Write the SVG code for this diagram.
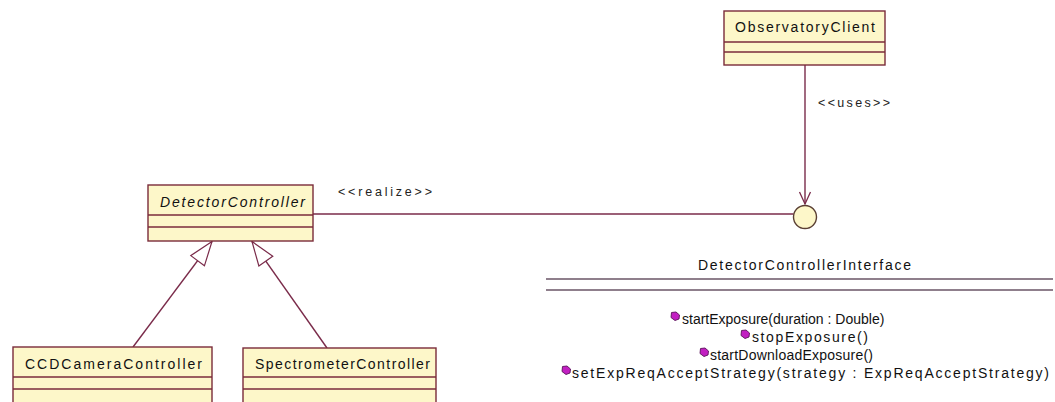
<svg xmlns="http://www.w3.org/2000/svg" width="1055" height="402" viewBox="0 0 1055 402">
  <style>
    .box { fill: #fdf7c9; stroke: #7a2b3a; stroke-width: 1.4; }
    .sep { stroke: #7a2b3a; stroke-width: 1.4; }
    .name { font-family: "Liberation Sans", Arial, sans-serif; font-size: 14px; fill: #111; text-anchor: start; }
    .stereo { font-family: "Liberation Sans", Arial, sans-serif; font-size: 12.5px; fill: #222; }
    .op { font-family: "Liberation Sans", Arial, sans-serif; font-size: 14px; fill: #111; }
    .conn { stroke: #7a2b4a; stroke-width: 1.4; fill: none; }
    .iface-line { stroke: #6a5566; stroke-width: 1.5; }
    .opicon { fill: #c21fc2; stroke: #5a125a; stroke-width: 0.9; }
  </style>
  <defs>
    <marker id="gen" markerUnits="userSpaceOnUse" markerWidth="30" markerHeight="24" refX="0" refY="0" viewBox="-26 -12 28 24" orient="auto">
      <path d="M0,0 L-24,-8.5 L-24,8.5 Z" fill="#ffffff" stroke="#7a2b4a" stroke-width="1.2"/>
    </marker>
    <marker id="open" markerUnits="userSpaceOnUse" markerWidth="16" markerHeight="16" refX="0" refY="0" viewBox="-14 -8 16 16" orient="auto">
      <path d="M-12,-5.5 L0,0 L-12,5.5" fill="none" stroke="#7a2b4a" stroke-width="1.3"/>
    </marker>
    <!-- operation visibility glyph -->
    <path id="opmark" class="opicon" d="M-3.5,-3.5 L1,-4 L4.5,-1 L4,3 L0,4.5 L-4,1.5 Z"/>
  </defs>

  <!-- connectors -->
  <g id="connectors">
    <line class="conn" x1="805" y1="65" x2="805" y2="204" marker-end="url(#open)"/>
    <text class="stereo" x="818" y="107" textLength="72" lengthAdjust="spacing">&lt;&lt;uses&gt;&gt;</text>
    <line class="conn" x1="313" y1="214" x2="793.5" y2="214"/>
    <text class="stereo" x="338" y="196" textLength="94" lengthAdjust="spacing">&lt;&lt;realize&gt;&gt;</text>
    <line class="conn" x1="133" y1="347" x2="212" y2="241.5" marker-end="url(#gen)"/>
    <line class="conn" x1="327" y1="348" x2="252" y2="241.5" marker-end="url(#gen)"/>
  </g>

  <!-- ObservatoryClient -->
  <g id="ObservatoryClient">
    <rect class="box" x="724" y="11" width="161" height="54"/>
    <line class="sep" x1="724" y1="42" x2="885" y2="42"/>
    <line class="sep" x1="724" y1="52" x2="885" y2="52"/>
    <text class="name" x="735" y="32" textLength="140" lengthAdjust="spacing">ObservatoryClient</text>
  </g>

  <!-- DetectorController (abstract) -->
  <g id="DetectorController">
    <rect class="box" x="148" y="185" width="165" height="56"/>
    <line class="sep" x1="148" y1="215" x2="313" y2="215"/>
    <line class="sep" x1="148" y1="227" x2="313" y2="227"/>
    <text class="name" x="160" y="207" font-style="italic" textLength="145" lengthAdjust="spacing">DetectorController</text>
  </g>

  <!-- CCDCameraController -->
  <g id="CCDCameraController">
    <rect class="box" x="13" y="347" width="199" height="70"/>
    <line class="sep" x1="13" y1="377" x2="212" y2="377"/>
    <line class="sep" x1="13" y1="389" x2="212" y2="389"/>
    <text class="name" x="25" y="369" textLength="177" lengthAdjust="spacing">CCDCameraController</text>
  </g>

  <!-- SpectrometerController -->
  <g id="SpectrometerController">
    <rect class="box" x="243" y="348" width="193" height="70"/>
    <line class="sep" x1="243" y1="377" x2="436" y2="377"/>
    <line class="sep" x1="243" y1="389" x2="436" y2="389"/>
    <text class="name" x="255" y="369" textLength="175" lengthAdjust="spacing">SpectrometerController</text>
  </g>

  <!-- DetectorControllerInterface: lollipop and expanded listing -->
  <g id="DetectorControllerInterface">
    <circle cx="805" cy="217" r="11.5" fill="#fdf7c9" stroke="#5a3f33" stroke-width="1.4"/>
    <text class="name" x="698" y="270" textLength="213" lengthAdjust="spacing">DetectorControllerInterface</text>
    <line class="iface-line" x1="546" y1="279" x2="1053" y2="279"/>
    <line class="iface-line" x1="546" y1="290" x2="1053" y2="290"/>
    <use href="#opmark" x="675" y="316"/>
    <text class="op" x="682" y="324" font-size="13.6">startExposure(duration : Double)</text>
    <use href="#opmark" x="745" y="334"/>
    <text class="op" x="752" y="342" textLength="116" lengthAdjust="spacing">stopExposure()</text>
    <use href="#opmark" x="704" y="352"/>
    <text class="op" x="710" y="360" textLength="163" lengthAdjust="spacing">startDownloadExposure()</text>
    <use href="#opmark" x="566" y="370"/>
    <text class="op" x="572" y="378" textLength="477" lengthAdjust="spacing">setExpReqAcceptStrategy(strategy : ExpReqAcceptStrategy)</text>
  </g>
</svg>
